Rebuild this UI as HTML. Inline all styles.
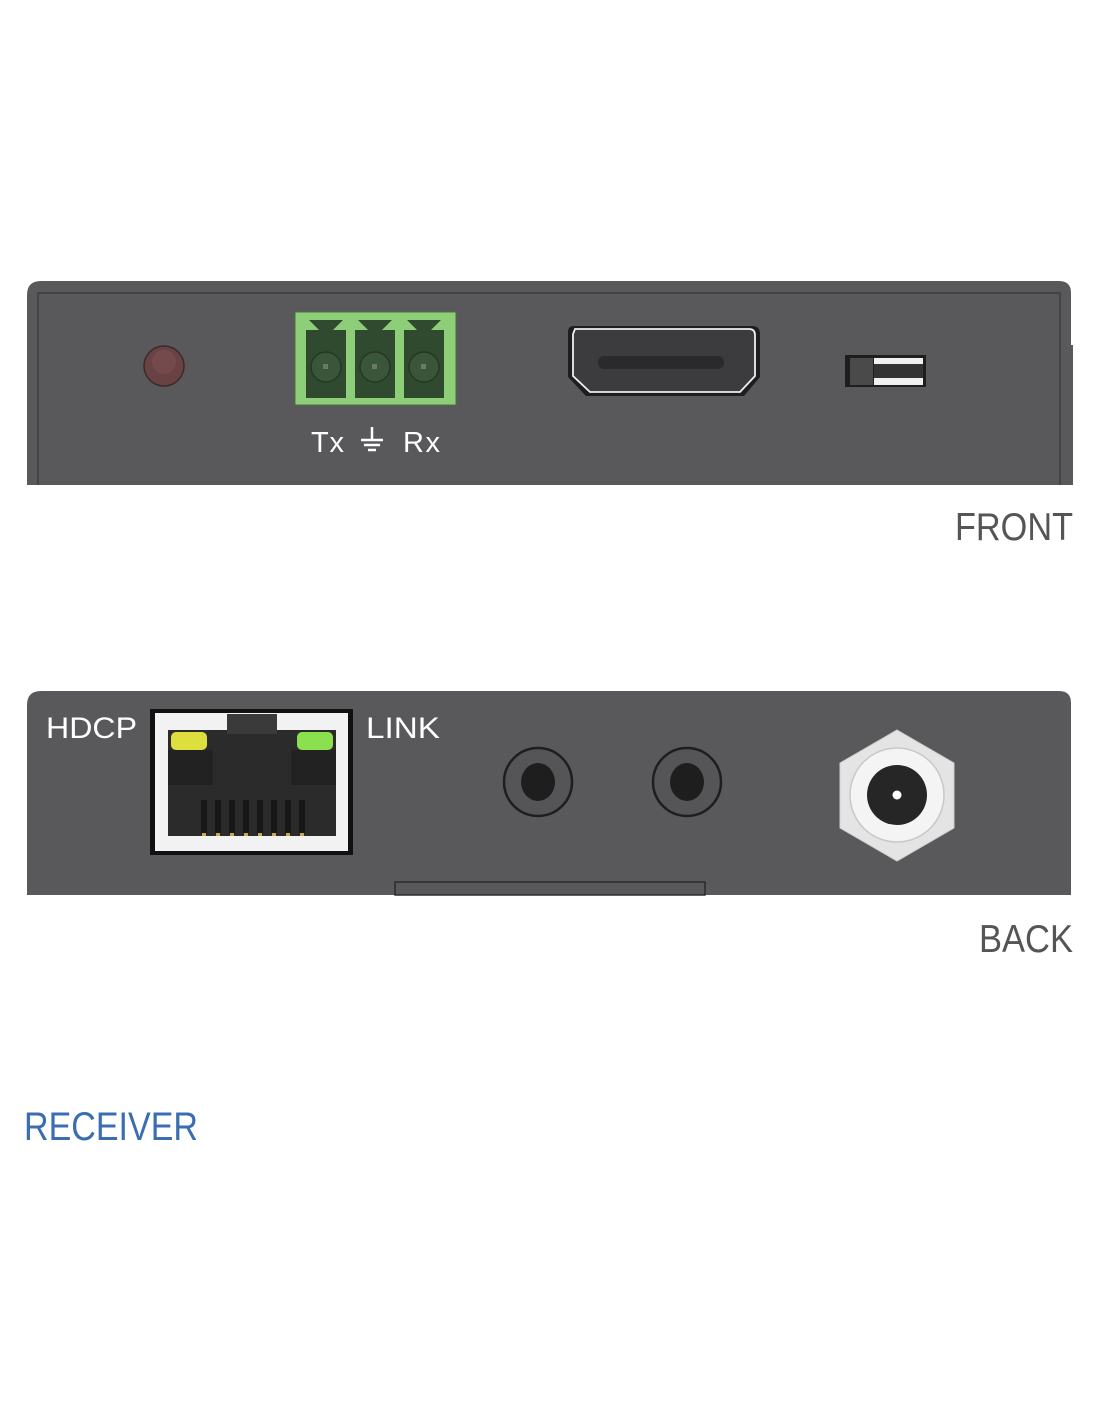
<!DOCTYPE html>
<html><head><meta charset="utf-8"><style>
html,body{margin:0;padding:0;background:#fff;}
svg{display:block;}
</style></head><body>
<svg width="1100" height="1422" viewBox="0 0 1100 1422" xmlns="http://www.w3.org/2000/svg" font-family="Liberation Sans, sans-serif">
<rect width="1100" height="1422" fill="#fff"/>
<!-- FRONT panel -->
<path d="M27,485 L27,295 Q27,281 41,281 L1059,281 Q1071,281 1071,293 L1071,345 L1073,345 L1073,485 Z" fill="#59595b"/>
<path d="M38,485 L38,293 L1060,293 L1060,485" fill="none" stroke="#3e3e40" stroke-width="1.5"/>
<!-- LED -->
<circle cx="164" cy="366" r="20" fill="#6a4244" stroke="#3a2a2a" stroke-width="1.5"/>
<circle cx="164" cy="362" r="12" fill="#7c5052" opacity="0.6"/>
<!-- green terminal block -->
<rect x="295" y="312" width="161" height="93" fill="#8fce78" stroke="#4c6e40" stroke-width="1"/>
<g fill="#304a30">
 <rect x="306" y="330" width="40" height="68"/>
 <rect x="355" y="330" width="40" height="68"/>
 <rect x="404" y="330" width="40" height="68"/>
 <path d="M309,320 L343,320 L333,330 L319,330 Z"/>
 <path d="M358,320 L392,320 L382,330 L368,330 Z"/>
 <path d="M407,320 L441,320 L431,330 L417,330 Z"/>
</g>
<g fill="#3a563a" stroke="#243824" stroke-width="1.5">
 <circle cx="326" cy="367" r="15"/><circle cx="375" cy="367" r="15"/><circle cx="424" cy="367" r="15"/>
</g>
<g fill="#6a7a6a"><rect x="323" y="364" width="5" height="5"/><rect x="372" y="364" width="5" height="5"/><rect x="421" y="364" width="5" height="5"/></g>
<text x="311" y="452" font-size="29" fill="#fff" textLength="33">Tx</text>
<g stroke="#fff" stroke-width="2.5"><line x1="372" y1="427" x2="372" y2="440"/><line x1="361" y1="440" x2="383" y2="440"/><line x1="364" y1="445" x2="380" y2="445"/><line x1="368" y1="450" x2="376" y2="450"/></g>
<text x="403" y="452" font-size="29" fill="#fff" textLength="37">Rx</text>
<!-- HDMI -->
<path d="M572,326 L752,326 Q760,326 760,334 L760,377 L744,396 L586,396 L568,377 L568,332 Q568,326 574,326 Z" fill="#1e1e20"/>
<path d="M575,329 L749,329 Q755,329 755,335 L755,376 L740,392 L590,392 L573,376 L573,334 Z" fill="#3c3c3e" stroke="#eee" stroke-width="1.8"/>
<rect x="598" y="356" width="126" height="13" rx="6" fill="#2a2a2c"/>
<!-- switch -->
<rect x="845" y="355" width="81" height="32" fill="#1e1e1e"/>
<rect x="850" y="358" width="23" height="27" fill="#4a4a4a"/>
<rect x="874" y="358" width="49" height="27" fill="#f0f0f0"/>
<rect x="874" y="364" width="49" height="14" fill="#333"/>
<text x="955" y="540" font-size="39" fill="#555" textLength="118" lengthAdjust="spacingAndGlyphs">FRONT</text>

<!-- BACK panel -->
<path d="M27,895 L27,705 Q27,691 41,691 L1059,691 Q1071,691 1071,703 L1071,895 Z" fill="#59595b"/>
<rect x="395" y="882" width="310" height="13" fill="#58585a" stroke="#2a2a2a" stroke-width="1.5"/>
<text x="46" y="738" font-size="30" fill="#fff" textLength="91" lengthAdjust="spacingAndGlyphs">HDCP</text>
<text x="366" y="738" font-size="30" fill="#fff" textLength="74" lengthAdjust="spacingAndGlyphs">LINK</text>
<!-- RJ45 -->
<rect x="150" y="709" width="203" height="146" fill="#111"/>
<rect x="155" y="713" width="193" height="138" fill="#f2f2f2"/>
<rect x="168" y="730" width="168" height="106" fill="#2b2b2b"/>
<rect x="227" y="714" width="50" height="20" fill="#3a3a3a"/>
<rect x="168" y="750" width="45" height="35" fill="#222"/>
<rect x="291" y="750" width="45" height="35" fill="#222"/>
<rect x="171" y="732" width="36" height="18" rx="5" fill="#dede3e"/>
<rect x="297" y="732" width="36" height="18" rx="5" fill="#8ae04e"/>
<g fill="#171717">
<rect x="201" y="800" width="6" height="34"/><rect x="215" y="800" width="6" height="34"/><rect x="229" y="800" width="6" height="34"/><rect x="243" y="800" width="6" height="34"/><rect x="257" y="800" width="6" height="34"/><rect x="271" y="800" width="6" height="34"/><rect x="285" y="800" width="6" height="34"/><rect x="299" y="800" width="6" height="34"/>
</g>
<g fill="#c9a94a">
<rect x="202" y="833" width="4" height="3"/><rect x="216" y="833" width="4" height="3"/><rect x="230" y="833" width="4" height="3"/><rect x="244" y="833" width="4" height="3"/><rect x="258" y="833" width="4" height="3"/><rect x="272" y="833" width="4" height="3"/><rect x="286" y="833" width="4" height="3"/><rect x="300" y="833" width="4" height="3"/>
</g>
<!-- audio jacks -->
<g>
<circle cx="538" cy="782" r="34" fill="#555557" stroke="#1e1e1e" stroke-width="2.5"/>
<ellipse cx="538" cy="782" rx="17" ry="19" fill="#1e1e1e"/>
<circle cx="687" cy="782" r="34" fill="#555557" stroke="#1e1e1e" stroke-width="2.5"/>
<ellipse cx="687" cy="782" rx="17" ry="19" fill="#1e1e1e"/>
</g>
<!-- DC hex -->
<polygon points="897,730 954,763 954,828 897,861 840,828 840,763" fill="#e4e4e4" stroke="#cfcfcf"/>
<circle cx="897" cy="795" r="47" fill="#f4f4f4" stroke="#c8c8c8" stroke-width="1.5"/>
<circle cx="897" cy="795" r="30" fill="#262626"/>
<circle cx="897" cy="795" r="4.5" fill="#fff"/>
<text x="979" y="952" font-size="39" fill="#555" textLength="94" lengthAdjust="spacingAndGlyphs">BACK</text>

<text x="24" y="1140" font-size="40" fill="#3b6db3" textLength="174" lengthAdjust="spacingAndGlyphs">RECEIVER</text>
</svg>
</body></html>
